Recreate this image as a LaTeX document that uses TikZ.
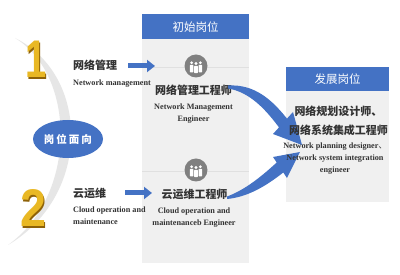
\documentclass[tikz,border=0pt]{standalone}
\usepackage{fontspec}
\setmainfont{Liberation Serif}
\newfontfamily\cjk{Noto Sans CJK SC}
\newfontfamily\digitfont{Liberation Sans}
\usetikzlibrary{arrows.meta,shapes.geometric}
\definecolor{mblue}{HTML}{4472C4}
\definecolor{panelgray}{HTML}{F0F0F0}
\definecolor{txt}{HTML}{333333}
\definecolor{gold}{HTML}{E9B824}
\definecolor{golddark}{HTML}{8E6208}
\definecolor{crescent}{HTML}{E6E6E6}
\newcommand{\golddigit}[2]{\rlap{\hspace{1.5pt}\raisebox{-1.5pt}{\textcolor{golddark}{\scalebox{#1}[1]{#2}}}}\textcolor{gold}{\scalebox{#1}[1]{#2}}}
\tikzset{
  zh/.style={font=\cjk\bfseries\fontsize{11}{12}\selectfont, text=txt, inner sep=0pt},
  en/.style={font=\bfseries\fontsize{8.2}{12}\selectfont, text=txt, inner sep=0pt, align=center},
  hdrtext/.style={font=\cjk\fontsize{11.5}{13}\selectfont, text=white, inner sep=0pt},
  panelfill/.style={fill=panelgray},
  hdrfill/.style={fill=mblue},
  sep/.style={draw=black!12, line width=0.8pt},
  smallarrow/.style={mblue, line width=5pt, -{Triangle[length=8pt,width=12pt]}},
  bigarrow/.style={fill=mblue, draw=none},
  iconc/.style={circle, fill=black!50, minimum size=23pt, inner sep=0pt},
  digit/.style={font=\digitfont\bfseries\fontsize{53}{53}\selectfont, inner sep=0pt, anchor=base},
}
\begin{document}
\begin{tikzpicture}[x=1pt,y=-1pt]
\useasboundingbox (0,0) rectangle (400,275);
\fill[white] (0,0) rectangle (400,275);

% crescent
\fill[crescent] (15,38) .. controls (90,75) and (92,195) .. (8,245)
   .. controls (78,195) and (76,75) .. (15,38) -- cycle;

% digits
\node[digit] (d1) at (35.7,78) {\golddigit{0.72}{1}};
\node[digit] (d2) at (33.2,227) {\golddigit{0.88}{2}};

% ellipse
\node[ellipse, fill=mblue, minimum width=70pt, minimum height=38pt, inner sep=0pt,
  font=\cjk\bfseries\fontsize{10.5}{12}\selectfont, text=white] (face) at (68,139)
  {岗\hspace{2pt}位\hspace{2pt}面\hspace{2pt}向};

% middle panel
\fill[panelfill] (142,14) rectangle (249,263);
\fill[hdrfill] (142,14) rectangle (249,39);
\node[hdrtext] (h1) at (195.5,27) {初始岗位};
\draw[sep] (142,67) -- (249,67);
\draw[sep] (142,171) -- (249,171);

% right panel
\fill[panelfill] (286,67) rectangle (389,202);
\fill[hdrfill] (286,67) rectangle (389,91);
\node[hdrtext] (h2) at (337.5,79.5) {发展岗位};

% icons
\foreach \n/\yy in {i1/66, i2/170}{
  \node[iconc] (\n) at (196,\yy) {};
  \begin{scope}[shift={(196,\yy)}]
    \fill[white, rounded corners=0.8pt] (-6.2,-1.2) rectangle (-2.6,6.5);
    \fill[white, rounded corners=0.8pt] (2.6,-1.2) rectangle (6.2,6.5);
    \fill[white, rounded corners=0.8pt] (-1.9,-0.2) rectangle (1.9,7.2);
    \fill[white] (-4.4,-3.3) circle (1.5);
    \fill[white] (4.4,-3.3) circle (1.5);
    \fill[white] (0,-2.4) circle (1.6);
  \end{scope}
}

% left texts
\node[zh, anchor=west] (l1) at (73,65.5) {网络管理};
\node[en, anchor=west] (l1e) at (73,84) {Network management};
\node[zh, anchor=west] (l2) at (73,193) {云运维};
\node[en, anchor=west, align=left] (l2e) at (73,215.5) {Cloud operation and\\maintenance};

% small arrows
\coordinate (a1s) at (128,66);
\coordinate (a1e) at (155,66);
\coordinate (a2s) at (125,193);
\coordinate (a2e) at (152,193);
\draw[smallarrow] (a1s) -- (a1e);
\draw[smallarrow] (a2s) -- (a2e);

% middle texts
\node[zh] (m1) at (193.5,90.5) {网络管理工程师};
\node[en] (m1e) at (193.5,113.5) {Network Management\\Engineer};
\node[zh] (m2) at (194.5,194) {云运维工程师};
\node[en] (m2e) at (194,218) {Cloud operation and\\maintenanceb Engineer};

% big curved arrows
\fill[bigarrow] (228,85.5) .. controls (255,84) and (272,100) .. (287,118.6)
  -- (293,112) -- (302,145) -- (273,134) -- (279,127.4)
  .. controls (266,110) and (250,92) .. (228,88.5) -- cycle;
\fill[bigarrow] (227,196.5) .. controls (245,190) and (262,176) .. (276.7,162.5)
  -- (273,157) -- (300,152) -- (287,178) -- (283.3,172.5)
  .. controls (266,186) and (248,197) .. (227,199) -- cycle;

% right texts
\node[zh, align=center, font=\cjk\bfseries\fontsize{11}{19}\selectfont] (r1) at (338.5,120.5)
  {网络规划设计师、\\网络系统集成工程师};
\node[en] (r1e) at (335,159) {Network planning designer{\cjk\mdseries 、}\\Network system integration\\engineer};
\end{tikzpicture}
\end{document}
